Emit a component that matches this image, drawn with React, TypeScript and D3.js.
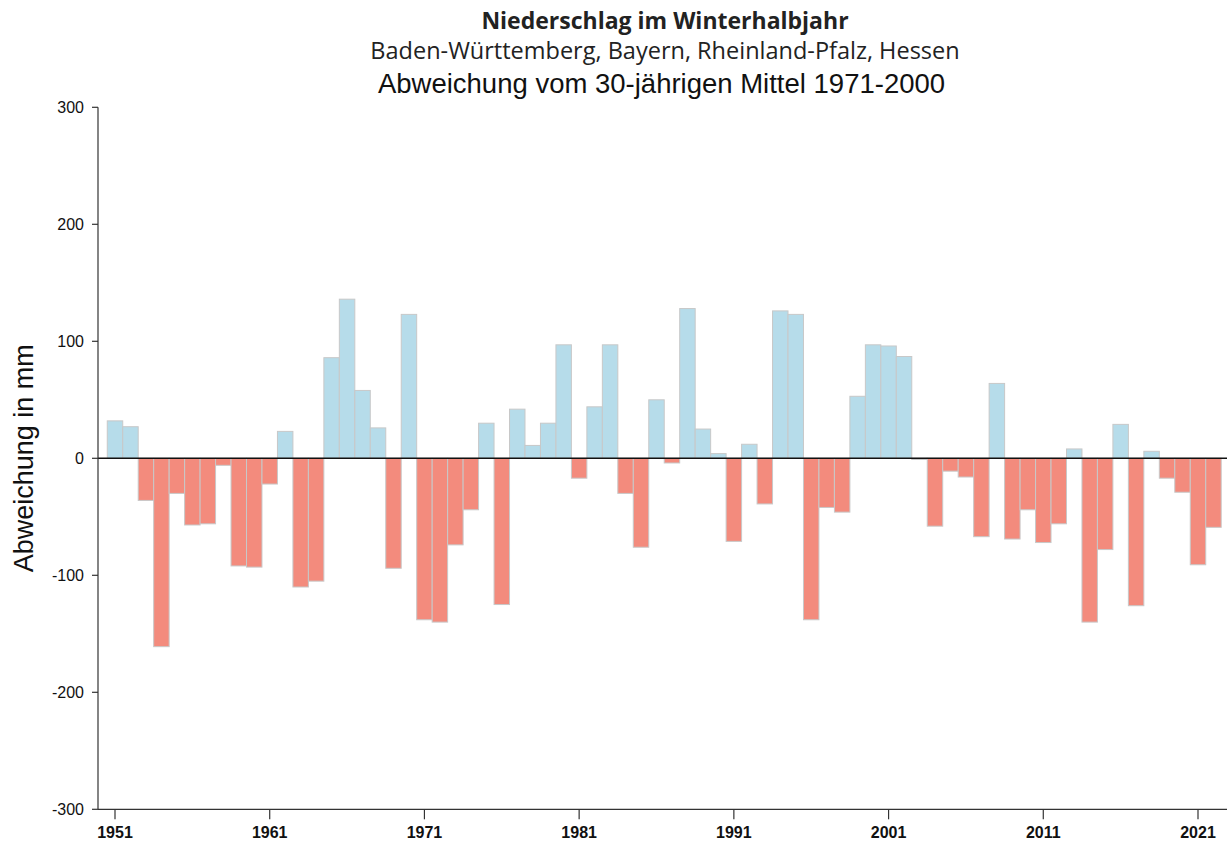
import * as d3 from 'd3'

// Abweichung vom Mittel 1971-2000 in mm, Winterhalbjahr 1951-2022
const years = d3.range(1951, 2023)
const values = [
  32, 27, -36, -161, -30, -57, -56, -6, -92, -93,
  -22, 23, -110, -105, 86, 136, 58, 26, -94, 123,
  -138, -140, -74, -44, 30, -125, 42, 11, 30, 97,
  -17, 44, 97, -30, -76, 50, -4, 128, 25, 4,
  -71, 12, -39, 126, 123, -138, -42, -46, 53, 97,
  96, 87, -1, -58, -11, -16, -67, 64, -69, -44,
  -72, -56, 8, -140, -78, 29, -126, 6, -17, -29,
  -91, -59,
]
const yTicks = [-300, -200, -100, 0, 100, 200, 300]
const xTicks = [1951, 1961, 1971, 1981, 1991, 2001, 2011, 2021]

const W = 1227
const H = 843
const axisX = 98
const POS = '#b6dcea'
const NEG = '#f38b7d'

export default function App() {
  const x = d3.scaleLinear().domain([1951, 2021]).range([115, 1198])
  const y = d3.scaleLinear().domain([-300, 300]).range([809.3, 107.3])
  const bw = x(1952) - x(1951)
  const arial = 'Arial, "Liberation Sans", sans-serif'

  return (
    <svg
      width={W}
      height={H}
      style={{ position: 'absolute', left: 0, top: 0, background: '#fff' }}
    >
      {/* titles */}
      <text x={665} y={29} textAnchor="middle" fontFamily='"Open Sans", sans-serif'
        fontWeight={700} fontSize={23} fill="#222">
        Niederschlag im Winterhalbjahr
      </text>
      <text x={665} y={59} textAnchor="middle" fontFamily='"Open Sans", sans-serif'
        fontSize={23.5} fill="#222">
        Baden-Württemberg, Bayern, Rheinland-Pfalz, Hessen
      </text>
      <text x={661.5} y={93} textAnchor="middle" fontFamily={arial} fontSize={27.5} fill="#111">
        Abweichung vom 30-jährigen Mittel 1971-2000
      </text>

      {/* bars */}
      {values.map((v, i) => {
        const cx = x(years[i])
        return (
          <rect
            key={years[i]}
            x={cx - bw / 2}
            y={v >= 0 ? y(v) : y(0)}
            width={bw}
            height={Math.abs(y(v) - y(0))}
            fill={v >= 0 ? POS : NEG}
            stroke="#c8c8c8"
            strokeWidth={1}
          />
        )
      })}

      {/* zero line */}
      <line x1={axisX} x2={W} y1={y(0)} y2={y(0)} stroke="#111" strokeWidth={1.5} />

      {/* y axis */}
      <line x1={axisX} x2={axisX} y1={y(300)} y2={y(-300)} stroke="#333" strokeWidth={1.2} />
      {yTicks.map(t => (
        <g key={t}>
          <line x1={axisX - 6} x2={axisX} y1={y(t)} y2={y(t)} stroke="#333" strokeWidth={1.2} />
          <text x={axisX - 14} y={y(t) + 5.5} textAnchor="end" fontFamily={arial} fontSize={16} fill="#111">
            {t}
          </text>
        </g>
      ))}
      <text
        transform={`translate(33,${y(0)}) rotate(-90)`}
        textAnchor="middle"
        fontFamily={arial}
        fontSize={27}
        fill="#111"
      >
        Abweichung in mm
      </text>

      {/* x axis */}
      <line x1={axisX} x2={W} y1={y(-300)} y2={y(-300)} stroke="#333" strokeWidth={1.2} />
      {xTicks.map(t => (
        <g key={t}>
          <line x1={x(t)} x2={x(t)} y1={y(-300)} y2={y(-300) + 10} stroke="#333" strokeWidth={1.2} />
          <text x={x(t)} y={y(-300) + 29} textAnchor="middle" fontFamily={arial} fontWeight={700}
            fontSize={16} fill="#111">
            {t}
          </text>
        </g>
      ))}
    </svg>
  )
}
